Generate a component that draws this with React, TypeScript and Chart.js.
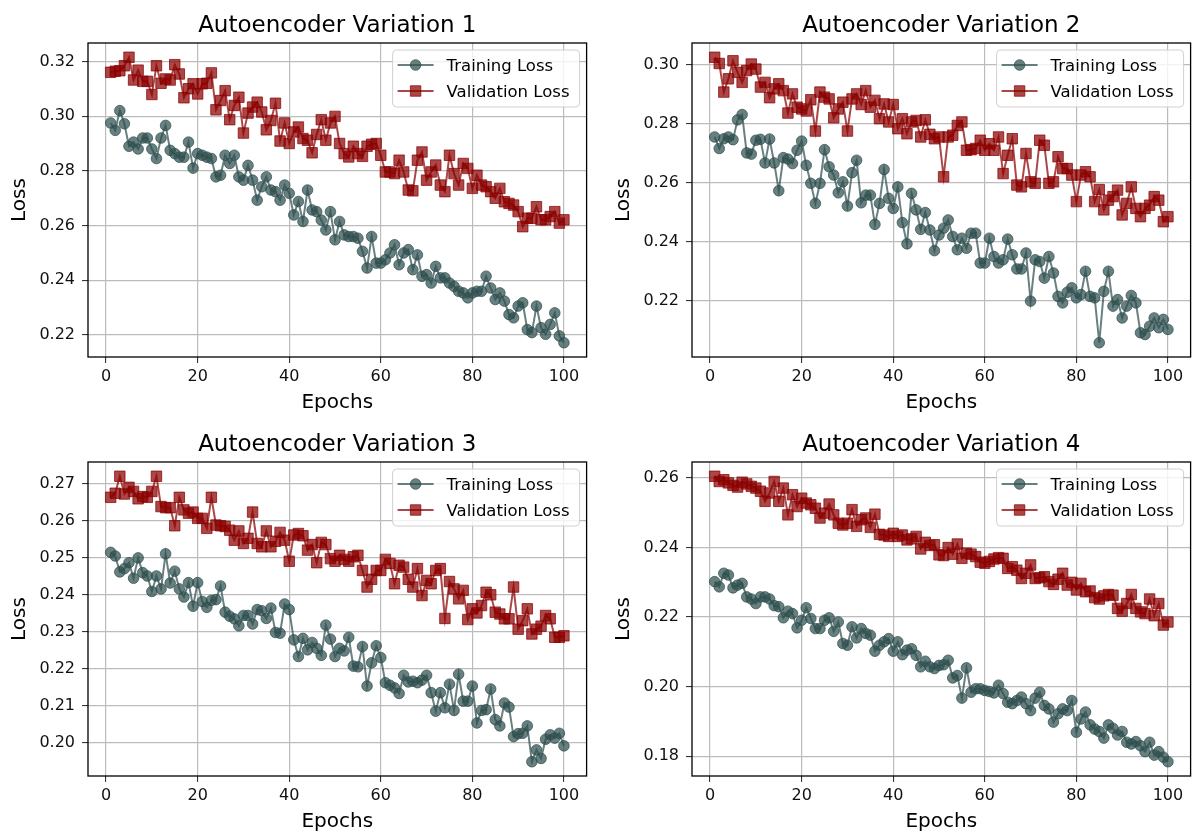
import React, { useEffect, useRef } from 'react';
import { Chart, registerables } from 'chart.js';

Chart.register(...registerables);

// ---------- data ----------
const epochs: number[] = Array.from({ length: 100 }, (_, i) => i + 1);
const xTicks = [0, 20, 40, 60, 80, 100];

const titles = ['Autoencoder Variation 1', 'Autoencoder Variation 2', 'Autoencoder Variation 3', 'Autoencoder Variation 4'];
const seriesLabels = ['Training Loss', 'Validation Loss'];

const trainLoss1 = [
  0.2975, 0.2948, 0.3020, 0.2972, 0.2890, 0.2905, 0.2880, 0.2920, 0.2920, 0.2880,
  0.2845, 0.2920, 0.2966, 0.2875, 0.2863, 0.2850, 0.2850, 0.2905, 0.2810, 0.2863,
  0.2857, 0.2850, 0.2845, 0.2778, 0.2784, 0.2857, 0.2827, 0.2857, 0.2778, 0.2766,
  0.2820, 0.2766, 0.2693, 0.2742, 0.2778, 0.2730, 0.2724, 0.2693, 0.2748, 0.2718,
  0.2639, 0.2688, 0.2615, 0.2730, 0.2657, 0.2651, 0.2620, 0.2584, 0.2651, 0.2548,
  0.2615, 0.2566, 0.2560, 0.2560, 0.2554, 0.2506, 0.2445, 0.2560, 0.2463, 0.2463,
  0.2475, 0.2500, 0.2530, 0.2457, 0.2500, 0.2512, 0.2439, 0.2493, 0.2415, 0.2421,
  0.2390, 0.2451, 0.2409, 0.2409, 0.2390, 0.2378, 0.2360, 0.2354, 0.2336, 0.2354,
  0.2360, 0.2360, 0.2415, 0.2372, 0.2330, 0.2354, 0.2324, 0.2275, 0.2263, 0.2306,
  0.2318, 0.2220, 0.2209, 0.2306, 0.2227, 0.2203, 0.2239, 0.2281, 0.2197, 0.2172,
];
const valLoss1 = [
  0.3160, 0.3164, 0.3166, 0.3184, 0.3215, 0.3132, 0.3168, 0.3127, 0.3127, 0.3079,
  0.3184, 0.3120, 0.3136, 0.3132, 0.3188, 0.3154, 0.3067, 0.3100, 0.3118, 0.3081,
  0.3118, 0.3120, 0.3158, 0.3023, 0.3057, 0.3093, 0.2987, 0.3039, 0.3069, 0.2938,
  0.3011, 0.3033, 0.3051, 0.3015, 0.2950, 0.2984, 0.3047, 0.2909, 0.2975, 0.2900,
  0.2942, 0.2960, 0.2918, 0.2912, 0.2866, 0.2933, 0.2987, 0.2912, 0.2975, 0.2999,
  0.2900, 0.2863, 0.2851, 0.2890, 0.2863, 0.2853, 0.2890, 0.2897, 0.2900, 0.2857,
  0.2796, 0.2796, 0.2790, 0.2839, 0.2796, 0.2730, 0.2727, 0.2839, 0.2869, 0.2766,
  0.2796, 0.2821, 0.2748, 0.2724, 0.2857, 0.2790, 0.2748, 0.2827, 0.2809, 0.2736,
  0.2784, 0.2748, 0.2742, 0.2724, 0.2700, 0.2736, 0.2687, 0.2681, 0.2675, 0.2651,
  0.2596, 0.2627, 0.2627, 0.2669, 0.2621, 0.2621, 0.2633, 0.2651, 0.2609, 0.2621,
];
const trainLoss2 = [
  0.2755, 0.2716, 0.2749, 0.2755, 0.2746, 0.2813, 0.2831, 0.2701, 0.2697, 0.2744,
  0.2747, 0.2667, 0.2748, 0.2667, 0.2573, 0.2685, 0.2680, 0.2665, 0.2710, 0.2741,
  0.2659, 0.2598, 0.2530, 0.2598, 0.2712, 0.2654, 0.2626, 0.2566, 0.2603, 0.2521,
  0.2634, 0.2676, 0.2532, 0.2558, 0.2558, 0.2459, 0.2530, 0.2645, 0.2547, 0.2513,
  0.2586, 0.2465, 0.2393, 0.2564, 0.2508, 0.2442, 0.2499, 0.2440, 0.2370, 0.2423,
  0.2446, 0.2474, 0.2418, 0.2373, 0.2412, 0.2378, 0.2429, 0.2429, 0.2328, 0.2328,
  0.2412, 0.2350, 0.2328, 0.2339, 0.2409, 0.2356, 0.2308, 0.2308, 0.2362, 0.2199,
  0.2339, 0.2333, 0.2277, 0.2350, 0.2294, 0.2215, 0.2193, 0.2229, 0.2244, 0.2210,
  0.2221, 0.2300, 0.2215, 0.2210, 0.2058, 0.2232, 0.2300, 0.2182, 0.2204, 0.2142,
  0.2182, 0.2218, 0.2193, 0.2092, 0.2086, 0.2114, 0.2142, 0.2109, 0.2137, 0.2103,
];
const valLoss2 = [
  0.3025, 0.3004, 0.2907, 0.2952, 0.3013, 0.2974, 0.2940, 0.2980, 0.3002, 0.2985,
  0.2924, 0.2940, 0.2888, 0.2918, 0.2935, 0.2912, 0.2836, 0.2901, 0.2856, 0.2850,
  0.2843, 0.2881, 0.2775, 0.2907, 0.2890, 0.2884, 0.2820, 0.2850, 0.2873, 0.2775,
  0.2884, 0.2901, 0.2865, 0.2912, 0.2856, 0.2879, 0.2817, 0.2867, 0.2806, 0.2865,
  0.2783, 0.2817, 0.2766, 0.2806, 0.2811, 0.2755, 0.2813, 0.2764, 0.2749, 0.2755,
  0.2620, 0.2755, 0.2761, 0.2794, 0.2806, 0.2710, 0.2712, 0.2716, 0.2744, 0.2710,
  0.2732, 0.2710, 0.2755, 0.2631, 0.2693, 0.2749, 0.2592, 0.2586, 0.2699, 0.2603,
  0.2598, 0.2744, 0.2727, 0.2598, 0.2603, 0.2688, 0.2648, 0.2648, 0.2626, 0.2536,
  0.2626, 0.2637, 0.2620, 0.2536, 0.2577, 0.2508, 0.2541, 0.2553, 0.2575, 0.2491,
  0.2530, 0.2586, 0.2513, 0.2485, 0.2513, 0.2524, 0.2553, 0.2541, 0.2468, 0.2485,
];
const trainLoss3 = [
  0.2515, 0.2505, 0.2462, 0.2471, 0.2487, 0.2445, 0.2500, 0.2460, 0.2451, 0.2409,
  0.2451, 0.2416, 0.2511, 0.2432, 0.2464, 0.2416, 0.2394, 0.2433, 0.2369, 0.2433,
  0.2382, 0.2366, 0.2385, 0.2387, 0.2424, 0.2353, 0.2342, 0.2335, 0.2316, 0.2344,
  0.2344, 0.2321, 0.2360, 0.2357, 0.2336, 0.2364, 0.2298, 0.2296, 0.2375, 0.2360,
  0.2278, 0.2233, 0.2282, 0.2251, 0.2271, 0.2255, 0.2236, 0.2318, 0.2280, 0.2233,
  0.2255, 0.2248, 0.2285, 0.2207, 0.2205, 0.2260, 0.2153, 0.2216, 0.2262, 0.2230,
  0.2162, 0.2155, 0.2148, 0.2133, 0.2182, 0.2164, 0.2166, 0.2162, 0.2169, 0.2182,
  0.2135, 0.2085, 0.2135, 0.2094, 0.2158, 0.2087, 0.2185, 0.2112, 0.2112, 0.2153,
  0.2053, 0.2087, 0.2089, 0.2145, 0.2062, 0.2045, 0.2107, 0.2096, 0.2016, 0.2024,
  0.2025, 0.2045, 0.1948, 0.1980, 0.1957, 0.2009, 0.2021, 0.2012, 0.2025, 0.1991,
];
const valLoss3 = [
  0.2664, 0.2675, 0.2721, 0.2673, 0.2691, 0.2680, 0.2660, 0.2666, 0.2664, 0.2680,
  0.2721, 0.2639, 0.2636, 0.2636, 0.2587, 0.2664, 0.2630, 0.2621, 0.2624, 0.2607,
  0.2607, 0.2580, 0.2664, 0.2589, 0.2587, 0.2585, 0.2575, 0.2548, 0.2573, 0.2539,
  0.2553, 0.2624, 0.2539, 0.2530, 0.2573, 0.2530, 0.2545, 0.2569, 0.2548, 0.2491,
  0.2562, 0.2566, 0.2560, 0.2521, 0.2536, 0.2487, 0.2542, 0.2536, 0.2498, 0.2491,
  0.2507, 0.2496, 0.2491, 0.2503, 0.2507, 0.2466, 0.2421, 0.2442, 0.2466, 0.2466,
  0.2496, 0.2485, 0.2430, 0.2480, 0.2475, 0.2442, 0.2421, 0.2471, 0.2398, 0.2439,
  0.2430, 0.2466, 0.2471, 0.2336, 0.2436, 0.2416, 0.2389, 0.2412, 0.2333, 0.2362,
  0.2351, 0.2371, 0.2407, 0.2400, 0.2353, 0.2348, 0.2335, 0.2335, 0.2421, 0.2307,
  0.2330, 0.2362, 0.2294, 0.2307, 0.2315, 0.2344, 0.2335, 0.2285, 0.2285, 0.2289,
];
const trainLoss4 = [
  0.2302, 0.2287, 0.2326, 0.2321, 0.2284, 0.2292, 0.2297, 0.2258, 0.2252, 0.2239,
  0.2258, 0.2258, 0.2252, 0.2233, 0.2230, 0.2198, 0.2217, 0.2210, 0.2169, 0.2191,
  0.2227, 0.2196, 0.2167, 0.2167, 0.2191, 0.2198, 0.2159, 0.2186, 0.2124, 0.2119,
  0.2172, 0.2140, 0.2167, 0.2153, 0.2148, 0.2102, 0.2119, 0.2129, 0.2138, 0.2102,
  0.2129, 0.2092, 0.2105, 0.2109, 0.2090, 0.2057, 0.2073, 0.2057, 0.2052, 0.2061,
  0.2063, 0.2076, 0.2025, 0.2032, 0.1967, 0.2054, 0.1984, 0.1994, 0.1994, 0.1989,
  0.1986, 0.1982, 0.2004, 0.1980, 0.1955, 0.1951, 0.1960, 0.1970, 0.1951, 0.1931,
  0.1967, 0.1984, 0.1946, 0.1936, 0.1898, 0.1922, 0.1936, 0.1931, 0.1960, 0.1869,
  0.1907, 0.1927, 0.1890, 0.1878, 0.1871, 0.1852, 0.1890, 0.1880, 0.1861, 0.1871,
  0.1840, 0.1835, 0.1842, 0.1830, 0.1813, 0.1840, 0.1803, 0.1813, 0.1797, 0.1784,
];
const valLoss4 = [
  0.2605, 0.2590, 0.2595, 0.2586, 0.2579, 0.2574, 0.2588, 0.2583, 0.2576, 0.2571,
  0.2562, 0.2533, 0.2557, 0.2590, 0.2533, 0.2571, 0.2494, 0.2552, 0.2518, 0.2542,
  0.2528, 0.2523, 0.2513, 0.2485, 0.2499, 0.2525, 0.2494, 0.2470, 0.2465, 0.2470,
  0.2509, 0.2461, 0.2480, 0.2485, 0.2458, 0.2496, 0.2438, 0.2436, 0.2432, 0.2441,
  0.2432, 0.2436, 0.2422, 0.2425, 0.2432, 0.2396, 0.2415, 0.2406, 0.2408, 0.2379,
  0.2377, 0.2400, 0.2381, 0.2410, 0.2369, 0.2384, 0.2381, 0.2374, 0.2358, 0.2355,
  0.2360, 0.2367, 0.2371, 0.2369, 0.2340, 0.2345, 0.2335, 0.2311, 0.2326, 0.2350,
  0.2311, 0.2313, 0.2316, 0.2302, 0.2294, 0.2309, 0.2326, 0.2292, 0.2300, 0.2278,
  0.2297, 0.2273, 0.2275, 0.2256, 0.2252, 0.2261, 0.2265, 0.2263, 0.2225, 0.2217,
  0.2239, 0.2265, 0.2225, 0.2215, 0.2210, 0.2252, 0.2204, 0.2239, 0.2177, 0.2186,
];

const yTicks1 = [0.22, 0.24, 0.26, 0.28, 0.30, 0.32];
const yTicks2 = [0.22, 0.24, 0.26, 0.28, 0.30];
const yTicks3 = [0.20, 0.21, 0.22, 0.23, 0.24, 0.25, 0.26, 0.27];
const yTicks4 = [0.18, 0.20, 0.22, 0.24, 0.26];

// ---------- style ----------
const FONT = '"DejaVu Sans", "Liberation Sans", sans-serif';
const TRAIN_COLOR = 'rgba(47,79,79,0.72)';
const VAL_COLOR = 'rgba(139,0,0,0.72)';
const GRID_COLOR = '#bcbcbc';
const CANVAS_W = 595;
const CANVAS_H = 418;

const framePlugin = {
  id: 'mplFrame',
  afterDatasetsDraw(chart: any) {
    const { ctx, chartArea: a } = chart;
    ctx.save();
    ctx.strokeStyle = '#000';
    ctx.lineWidth = 1.3;
    ctx.strokeRect(a.left, a.top, a.right - a.left, a.bottom - a.top);
    ctx.restore();
  },
};

const makeTitlePlugin = (text: string) => ({
  id: 'mplTitle',
  afterDraw(chart: any) {
    const { ctx, chartArea: a } = chart;
    ctx.save();
    ctx.font = `23px ${FONT}`;
    ctx.fillStyle = '#000';
    ctx.textAlign = 'center';
    ctx.textBaseline = 'alphabetic';
    ctx.fillText(text, (a.left + a.right) / 2, a.top - 11);
    ctx.restore();
  },
});

function drawMarker(ctx: CanvasRenderingContext2D, style: string, x: number, y: number, r: number) {
  ctx.beginPath();
  if (style === 'rect') {
    const h = r * Math.SQRT1_2;
    ctx.rect(x - h, y - h, 2 * h, 2 * h);
  } else {
    ctx.arc(x, y, r, 0, Math.PI * 2);
  }
  ctx.fill();
  ctx.stroke();
}

const legendPlugin = {
  id: 'mplLegend',
  afterDraw(chart: any) {
    const { ctx, chartArea: a } = chart;
    const w = 187;
    const h = 57;
    const bx = a.right - 7 - w;
    const by = a.top + 7;
    ctx.save();
    const rr = 4;
    ctx.beginPath();
    ctx.moveTo(bx + rr, by);
    ctx.lineTo(bx + w - rr, by);
    ctx.arcTo(bx + w, by, bx + w, by + rr, rr);
    ctx.lineTo(bx + w, by + h - rr);
    ctx.arcTo(bx + w, by + h, bx + w - rr, by + h, rr);
    ctx.lineTo(bx + rr, by + h);
    ctx.arcTo(bx, by + h, bx, by + h - rr, rr);
    ctx.lineTo(bx, by + rr);
    ctx.arcTo(bx, by, bx + rr, by, rr);
    ctx.closePath();
    ctx.fillStyle = 'rgba(255,255,255,0.8)';
    ctx.fill();
    ctx.strokeStyle = '#d0d0d0';
    ctx.lineWidth = 1;
    ctx.stroke();

    chart.data.datasets.forEach((ds: any, i: number) => {
      const cy = by + 15 + i * 26;
      ctx.strokeStyle = ds.borderColor;
      ctx.lineWidth = ds.borderWidth;
      ctx.beginPath();
      ctx.moveTo(bx + 5, cy);
      ctx.lineTo(bx + 41, cy);
      ctx.stroke();
      ctx.fillStyle = ds.backgroundColor;
      ctx.lineWidth = ds.pointBorderWidth;
      drawMarker(ctx, ds.pointStyle, bx + 23, cy, ds.pointRadius);
      ctx.fillStyle = '#000';
      ctx.font = `16.5px ${FONT}`;
      ctx.textAlign = 'left';
      ctx.textBaseline = 'alphabetic';
      ctx.fillText(ds.label, bx + 54, cy + 6);
    });
    ctx.restore();
  },
};

type SubplotProps = {
  title: string;
  train: number[];
  val: number[];
  yTicks: number[];
  left: number;
  top: number;
};

function Subplot({ title, train, val, yTicks, left, top }: SubplotProps) {
  const ref = useRef<HTMLCanvasElement>(null);

  useEffect(() => {
    if (!ref.current) return;
    const all = [...train, ...val];
    const lo = Math.min(...all);
    const hi = Math.max(...all);
    const ym = (hi - lo) * 0.05;
    const xm = (epochs[epochs.length - 1] - epochs[0]) * 0.05;

    const tickFont = { family: FONT, size: 16 };
    const labelFont = { family: FONT, size: 20 };

    const chart = new Chart(ref.current, {
      type: 'line',
      data: {
        datasets: [
          {
            label: seriesLabels[0],
            data: epochs.map((e, i) => ({ x: e, y: train[i] })),
            borderColor: TRAIN_COLOR,
            backgroundColor: TRAIN_COLOR,
            borderWidth: 2,
            pointStyle: 'circle',
            pointRadius: 5.3,
            pointBorderWidth: 1,
            tension: 0,
          },
          {
            label: seriesLabels[1],
            data: epochs.map((e, i) => ({ x: e, y: val[i] })),
            borderColor: VAL_COLOR,
            backgroundColor: VAL_COLOR,
            borderWidth: 2,
            pointStyle: 'rect',
            pointRadius: 7.4,
            pointBorderWidth: 1,
            tension: 0,
          },
        ],
      },
      options: {
        animation: false,
        responsive: false,
        maintainAspectRatio: false,
        events: [],
        layout: { padding: { top: 43, right: 3, left: 0, bottom: 0 } },
        plugins: {
          legend: { display: false },
          tooltip: { enabled: false },
          title: { display: false },
        },
        scales: {
          x: {
            type: 'linear',
            min: epochs[0] - xm,
            max: epochs[epochs.length - 1] + xm,
            afterBuildTicks: (s: any) => {
              s.ticks = xTicks.map((v) => ({ value: v }));
            },
            afterFit: (s: any) => {
              s.height = CANVAS_H - 357;
            },
            ticks: {
              autoSkip: false,
              maxRotation: 0,
              font: tickFont,
              color: '#111',
              padding: 4,
              callback: (v: any) => String(v),
            },
            grid: {
              color: GRID_COLOR,
              lineWidth: 1.2,
              tickLength: 6,
              tickColor: '#222',
              tickWidth: 1,
            },
            border: { display: false },
            title: {
              display: true,
              text: 'Epochs',
              font: labelFont,
              color: '#000',
              padding: { top: 0, bottom: 3 },
            },
          },
          y: {
            type: 'linear',
            min: lo - ym,
            max: hi + ym,
            afterBuildTicks: (s: any) => {
              s.ticks = yTicks.map((v) => ({ value: v }));
            },
            afterFit: (s: any) => {
              s.width = 88;
            },
            ticks: {
              autoSkip: false,
              font: tickFont,
              color: '#111',
              padding: 7,
              callback: (v: any) => Number(v).toFixed(2),
            },
            grid: {
              color: GRID_COLOR,
              lineWidth: 1.2,
              tickLength: 6,
              tickColor: '#222',
              tickWidth: 1,
            },
            border: { display: false },
            title: {
              display: true,
              text: 'Loss',
              font: labelFont,
              color: '#000',
              padding: { top: 8, bottom: 0 },
            },
          },
        },
      } as any,
      plugins: [framePlugin, makeTitlePlugin(title), legendPlugin],
    });

    return () => chart.destroy();
  }, [title, train, val, yTicks]);

  return (
    <canvas
      ref={ref}
      width={CANVAS_W}
      height={CANVAS_H}
      style={{ position: 'absolute', left, top, width: CANVAS_W, height: CANVAS_H }}
    />
  );
}

export default function App() {
  return (
    <div
      style={{
        position: 'fixed',
        left: 0,
        top: 0,
        width: 1199,
        height: 833,
        overflow: 'hidden',
        background: '#fff',
      }}
    >
      <Subplot title={titles[0]} train={trainLoss1} val={valLoss1} yTicks={yTicks1} left={0} top={0} />
      <Subplot title={titles[1]} train={trainLoss2} val={valLoss2} yTicks={yTicks2} left={604} top={0} />
      <Subplot title={titles[2]} train={trainLoss3} val={valLoss3} yTicks={yTicks3} left={0} top={419} />
      <Subplot title={titles[3]} train={trainLoss4} val={valLoss4} yTicks={yTicks4} left={604} top={419} />
    </div>
  );
}
